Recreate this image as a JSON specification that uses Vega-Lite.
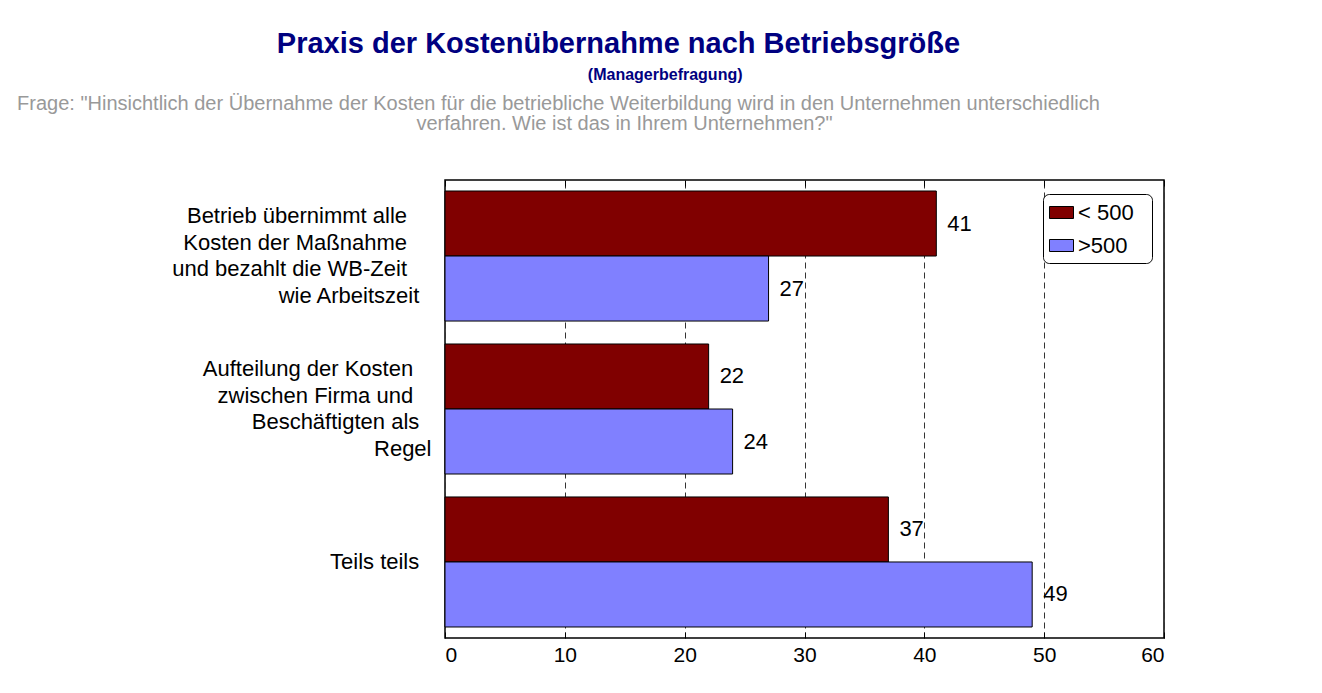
{
  "$schema": "https://vega.github.io/schema/vega-lite/v6.json",
  "autosize": {"type": "none"},
  "width": 719,
  "height": 458,
  "padding": {"left": 445, "top": 180, "right": 158, "bottom": 55},
  "background": "white",
  "config": {
    "font": "Liberation Sans",
    "view": {"stroke": "black", "strokeWidth": 1.5},
    "axisY": {
      "domain": false,
      "ticks": false,
      "labelFontSize": 22,
      "labelColor": "black",
      "labelAlign": "right",
      "labelBaseline": "middle",
      "labelLineHeight": 26.5,
      "labelPadding": 14,
      "labelLimit": 0
    }
  },
  "title": {
    "text": "Praxis der Kostenübernahme nach Betriebsgröße",
    "subtitle": "\u200b\u00a0\u00a0\u00a0\u00a0\u00a0\u00a0\u00a0\u00a0\u00a0\u00a0\u00a0\u00a0\u00a0\u00a0\u00a0\u00a0\u00a0\u00a0\u00a0\u00a0\u00a0(Managerbefragung)",
    "anchor": "middle",
    "frame": "group",
    "dx": -186,
    "offset": 10,
    "fontSize": 29,
    "fontWeight": "bold",
    "color": "#000080",
    "subtitleColor": "#000080",
    "subtitleFontSize": 16,
    "subtitleFontWeight": "bold",
    "subtitlePadding": 8
  },
  "data": {
    "values": [
      {"kategorie": "Betrieb übernimmt alle Kosten der Maßnahme und bezahlt die WB-Zeit wie Arbeitszeit", "groesse": "< 500", "wert": 41},
      {"kategorie": "Betrieb übernimmt alle Kosten der Maßnahme und bezahlt die WB-Zeit wie Arbeitszeit", "groesse": ">500", "wert": 27},
      {"kategorie": "Aufteilung der Kosten zwischen Firma und Beschäftigten als Regel", "groesse": "< 500", "wert": 22},
      {"kategorie": "Aufteilung der Kosten zwischen Firma und Beschäftigten als Regel", "groesse": ">500", "wert": 24},
      {"kategorie": "Teils teils", "groesse": "< 500", "wert": 37},
      {"kategorie": "Teils teils", "groesse": ">500", "wert": 49}
    ]
  },
  "layer": [
    {
      "mark": {"type": "bar", "stroke": "black", "strokeWidth": 1},
      "encoding": {
        "y": {
          "field": "kategorie",
          "type": "nominal",
          "sort": null,
          "scale": {"paddingInner": 0.15, "paddingOuter": 0.072},
          "axis": {
            "orient": "left",
            "values": ["Betrieb übernimmt alle Kosten der Maßnahme und bezahlt die WB-Zeit wie Arbeitszeit", "Aufteilung der Kosten zwischen Firma und Beschäftigten als Regel"],
            "labelExpr": "indexof(datum.value, 'Betrieb') == 0 ? ['Betrieb übernimmt alle\u00a0\u00a0\u00a0\u00a0\u200b', 'Kosten der Maßnahme\u00a0\u00a0\u00a0\u00a0\u200b', 'und bezahlt die WB-Zeit\u00a0\u00a0\u00a0\u00a0\u200b', 'wie Arbeitszeit\u00a0\u00a0\u200b'] : ['Aufteilung der Kosten\u00a0\u00a0\u00a0\u200b', 'zwischen Firma und\u00a0\u00a0\u00a0\u200b', 'Beschäftigten als\u00a0\u00a0\u200b', 'Regel']",
            "labelOffset": -39.75,
            "title": "verfahren. Wie ist das in Ihrem Unternehmen?\"",
            "titleAngle": 0,
            "titleX": 179,
            "titleY": -57,
            "titleAlign": "center",
            "titleBaseline": "middle",
            "titleFontSize": 20,
            "titleFontWeight": "normal",
            "titleColor": "#999999"
          }
        },
        "yOffset": {
          "field": "groesse",
          "type": "nominal",
          "sort": ["< 500", ">500"],
          "scale": {"paddingInner": 0, "paddingOuter": 0}
        },
        "x": {
          "field": "wert",
          "type": "quantitative",
          "scale": {"domain": [0, 60], "nice": false},
          "axis": {
            "orient": "bottom",
            "values": [0, 10, 20, 30, 40, 50, 60],
            "title": "Prozent",
            "titleFontSize": 20,
            "titleFontWeight": "normal",
            "titleColor": "black",
            "titleBaseline": "top",
            "titleY": 53,
            "domain": false,
            "tickSize": -6,
            "tickColor": "black",
            "labelPadding": 12,
            "labelFontSize": 21,
            "labelColor": "black",
            "grid": true,
            "gridColor": "#333333",
            "gridDash": [6, 4],
            "gridWidth": 1
          }
        },
        "color": {
          "field": "groesse",
          "type": "nominal",
          "scale": {"domain": ["< 500", ">500"], "range": ["#800000", "#8080FF"]},
          "legend": {
            "title": null,
            "orient": "none",
            "legendX": 598,
            "legendY": 14,
            "padding": 6,
            "strokeColor": "black",
            "fillColor": "white",
            "cornerRadius": 6,
            "symbolType": "M-1,-0.5H1V0.5H-1Z",
            "symbolSize": 576,
            "symbolStrokeColor": "black",
            "symbolStrokeWidth": 1,
            "symbolOpacity": 1,
            "labelExpr": "datum.label + '\u00a0\u00a0\u200b'",
            "labelFontSize": 22,
            "labelColor": "black",
            "labelOffset": 4,
            "rowPadding": 9
          }
        }
      }
    },
    {
      "mark": {"type": "text", "align": "left", "baseline": "middle", "dx": 11, "fontSize": 22, "color": "black"},
      "encoding": {
        "y": {
          "field": "kategorie",
          "type": "nominal",
          "sort": null,
          "scale": {"paddingInner": 0.15, "paddingOuter": 0.072},
          "axis": {
            "orient": "left",
            "values": ["Teils teils"],
            "labelExpr": "datum.value + '\u00a0\u00a0\u200b'",
            "labelOffset": 0,
            "title": null
          }
        },
        "yOffset": {
          "field": "groesse",
          "type": "nominal",
          "sort": ["< 500", ">500"],
          "scale": {"paddingInner": 0, "paddingOuter": 0}
        },
        "x": {
          "field": "wert",
          "type": "quantitative",
          "scale": {"domain": [0, 60], "nice": false},
          "axis": {
            "orient": "top",
            "values": [0, 10, 20, 30, 40, 50, 60],
            "labels": false,
            "domain": false,
            "grid": false,
            "tickSize": -6,
            "tickColor": "black",
            "title": "Frage: \"Hinsichtlich der Übernahme der Kosten für die betriebliche Weiterbildung wird in den Unternehmen unterschiedlich",
            "titleX": 113,
            "titleY": -77,
            "titleAlign": "center",
            "titleBaseline": "middle",
            "titleFontSize": 20,
            "titleFontWeight": "normal",
            "titleColor": "#999999",
            "titleLimit": 0
          }
        },
        "text": {"field": "wert", "type": "quantitative"}
      }
    }
  ],
  "resolve": {"axis": {"x": "independent", "y": "independent"}}
}
